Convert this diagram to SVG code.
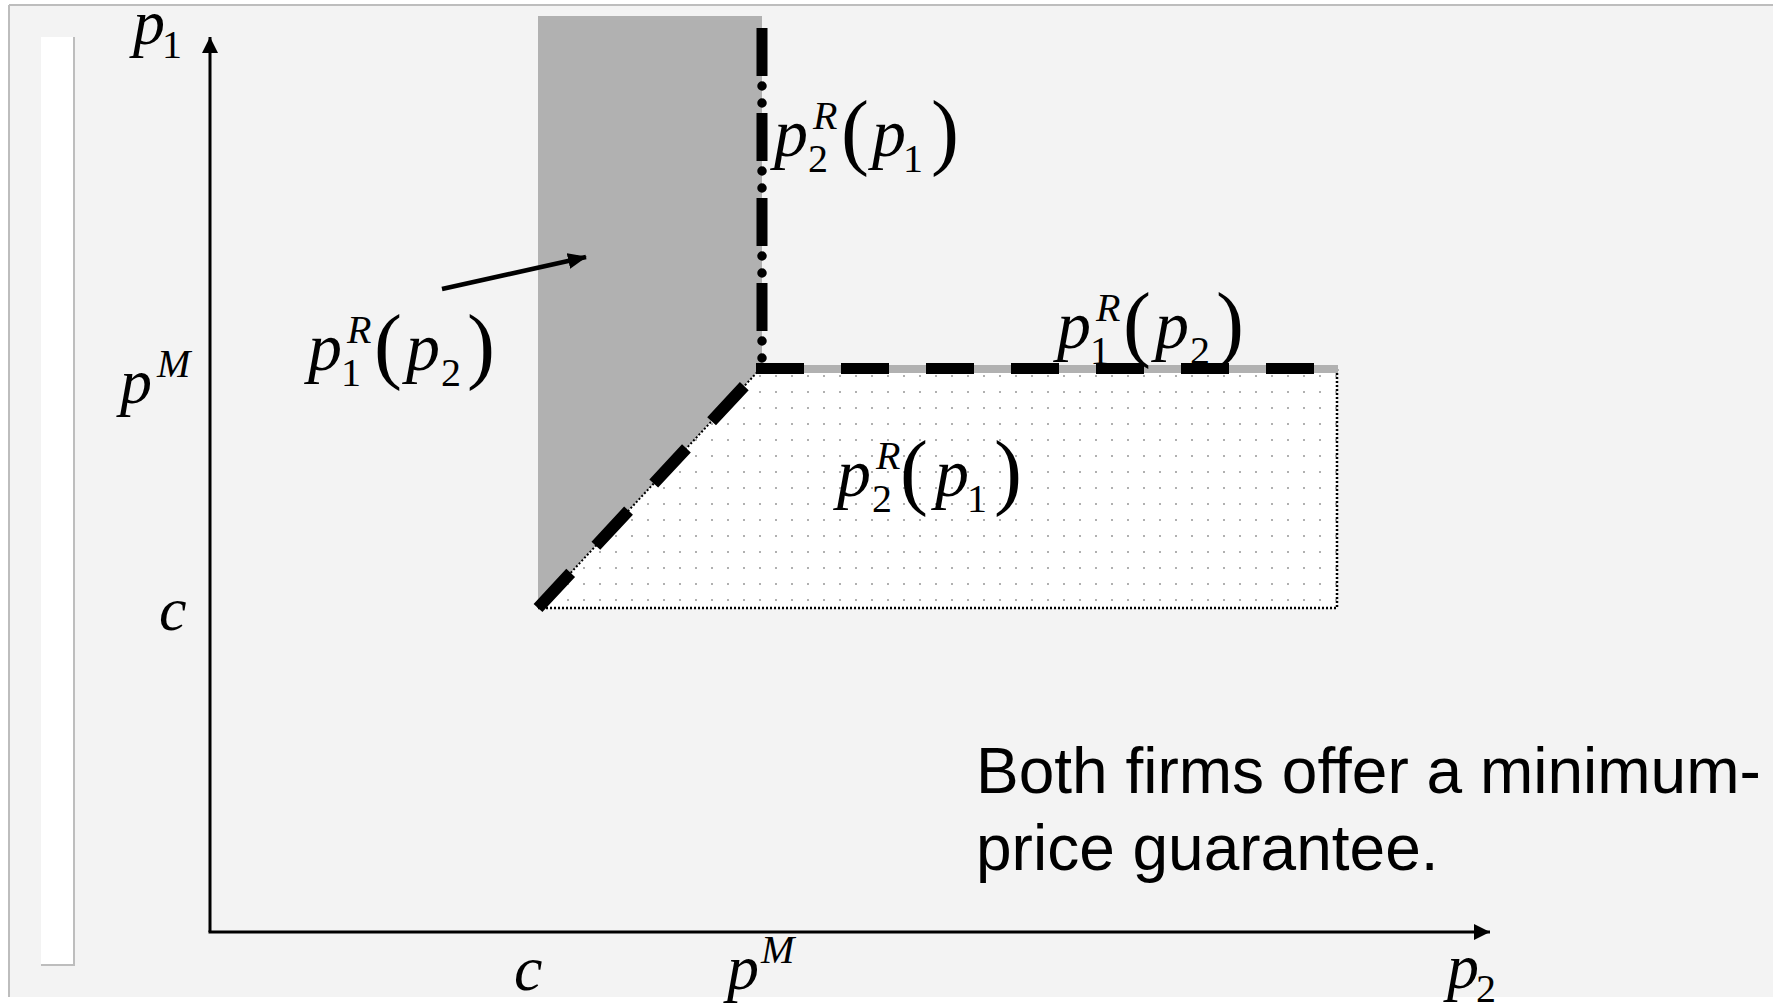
<svg xmlns="http://www.w3.org/2000/svg" width="1773" height="1005" viewBox="0 0 1773 1005">
<style>
.m{font-family:"Liberation Serif","Times New Roman",serif;fill:#000}
.i{font-style:italic}
.t{font-family:"Liberation Sans",Arial,sans-serif;font-size:64px;fill:#000}
.axis{stroke:#000;stroke-width:3;fill:none}
</style>
<defs>
<pattern id="dots" x="0" y="0" width="16" height="16" patternUnits="userSpaceOnUse">
<rect x="0" y="0" width="16" height="16" fill="#fff"/>
<rect x="7" y="7" width="2" height="2" fill="#b0b0b0"/>
</pattern>
<marker id="ah" viewBox="0 0 16 16" refX="16" refY="8" markerWidth="16" markerHeight="16" markerUnits="userSpaceOnUse" orient="auto">
<path d="M0,0 L16,8 L0,16 Z" fill="#000"/>
</marker>
<marker id="ah2" viewBox="0 0 20 18" refX="18" refY="9" markerWidth="20" markerHeight="18" markerUnits="userSpaceOnUse" orient="auto">
<path d="M0,1 L19,9 L0,17 Z" fill="#000"/>
</marker>
</defs>
<g id="background">
<rect x="0" y="0" width="1773" height="1005" fill="#fff"/>
<rect x="9" y="5" width="1764" height="992" fill="#f3f3f3"/>
<line x1="9" y1="5" x2="1773" y2="5" stroke="#bdbdbd" stroke-width="2"/>
<line x1="9" y1="5" x2="9" y2="997" stroke="#bdbdbd" stroke-width="2"/>
<rect x="41" y="37" width="33" height="928" fill="#fff"/>
<line x1="74" y1="37" x2="74" y2="965" stroke="#bdbdbd" stroke-width="2"/>
<line x1="41" y1="965" x2="75" y2="965" stroke="#bdbdbd" stroke-width="2"/>
</g>
<g id="region-gray">
<polygon points="538,16 762,16 762,367 538,608" fill="#b1b1b1"/>
</g>
<g id="region-dotted">
<polygon points="538,608 762,367 1337,367 1337,608" fill="url(#dots)"/>
<polyline points="538,608 1337,608 1337,369" fill="none" stroke="#000" stroke-width="2.5" stroke-dasharray="2 2"/>
<line x1="538" y1="608" x2="762" y2="367" stroke="#000" stroke-width="2" stroke-dasharray="2 2"/>
</g>
<g id="curves">
<line x1="762" y1="369" x2="1338" y2="369" stroke="#b1b1b1" stroke-width="8"/>
<line x1="756" y1="368.5" x2="1337" y2="368.5" stroke="#000" stroke-width="11" stroke-dasharray="48 37"/>
<line x1="538" y1="608" x2="762" y2="367" stroke="#000" stroke-width="12" stroke-dasharray="48 37"/>
<line x1="762" y1="28" x2="762" y2="367" stroke="#000" stroke-width="11" stroke-dasharray="48 37"/>
<line x1="762" y1="28" x2="762" y2="367" stroke="#000" stroke-width="9.5" stroke-linecap="round" stroke-dasharray="0 17 0 68" stroke-dashoffset="27"/>
</g>
<g id="connectors">
<line class="axis" x1="210" y1="932" x2="210" y2="37" marker-end="url(#ah)"/>
<line class="axis" x1="208.5" y1="932" x2="1490" y2="932" marker-end="url(#ah)"/>
<line x1="442" y1="289" x2="586" y2="257" stroke="#000" stroke-width="4.5" marker-end="url(#ah2)"/>
</g>
<g id="label-p2R-upper">
<text class="m"><tspan class="i" x="774" y="156" font-size="68">p</tspan><tspan class="i" x="813" y="129" font-size="40">R</tspan><tspan x="808" y="172" font-size="40">2</tspan><tspan x="841" y="159" font-size="84">(</tspan><tspan class="i" x="872" y="156" font-size="68">p</tspan><tspan x="903" y="172" font-size="40">1</tspan><tspan x="931" y="159" font-size="84">)</tspan></text>
</g>
<g id="label-p2R-middle">
<text class="m"><tspan class="i" x="837" y="496" font-size="68">p</tspan><tspan class="i" x="876" y="469" font-size="40">R</tspan><tspan x="872" y="512" font-size="40">2</tspan><tspan x="900" y="499" font-size="84">(</tspan><tspan class="i" x="935" y="496" font-size="68">p</tspan><tspan x="967" y="512" font-size="40">1</tspan><tspan x="994" y="499" font-size="84">)</tspan></text>
</g>
<g id="label-p1R-right">
<text class="m"><tspan class="i" x="1057" y="348" font-size="68">p</tspan><tspan class="i" x="1096" y="321" font-size="40">R</tspan><tspan x="1090" y="364" font-size="40">1</tspan><tspan x="1123" y="351" font-size="84">(</tspan><tspan class="i" x="1155" y="348" font-size="68">p</tspan><tspan x="1190" y="364" font-size="40">2</tspan><tspan x="1216" y="351" font-size="84">)</tspan></text>
</g>
<g id="label-p1R-left">
<text class="m"><tspan class="i" x="308" y="370" font-size="68">p</tspan><tspan class="i" x="347" y="343" font-size="40">R</tspan><tspan x="341" y="386" font-size="40">1</tspan><tspan x="374" y="373" font-size="84">(</tspan><tspan class="i" x="406" y="370" font-size="68">p</tspan><tspan x="441" y="386" font-size="40">2</tspan><tspan x="467" y="373" font-size="84">)</tspan></text>
</g>
<g id="axis-labels">
<text class="m"><tspan class="i" x="133" y="44" font-size="64">p</tspan><tspan x="162" y="58" font-size="40">1</tspan></text>
<text class="m"><tspan class="i" x="120" y="403" font-size="64">p</tspan><tspan class="i" x="157" y="377" font-size="40">M</tspan></text>
<text class="m i" x="159" y="630" font-size="62">c</text>
<text class="m i" x="514" y="990" font-size="64">c</text>
<text class="m"><tspan class="i" x="727" y="989" font-size="64">p</tspan><tspan class="i" x="761" y="963" font-size="40">M</tspan></text>
<text class="m"><tspan class="i" x="1447" y="988" font-size="64">p</tspan><tspan x="1476" y="1002" font-size="40">2</tspan></text>
</g>
<g id="caption">
<text class="t" x="976" y="793">Both firms offer a minimum-</text>
<text class="t" x="976" y="870">price guarantee.</text>
</g>
</svg>
